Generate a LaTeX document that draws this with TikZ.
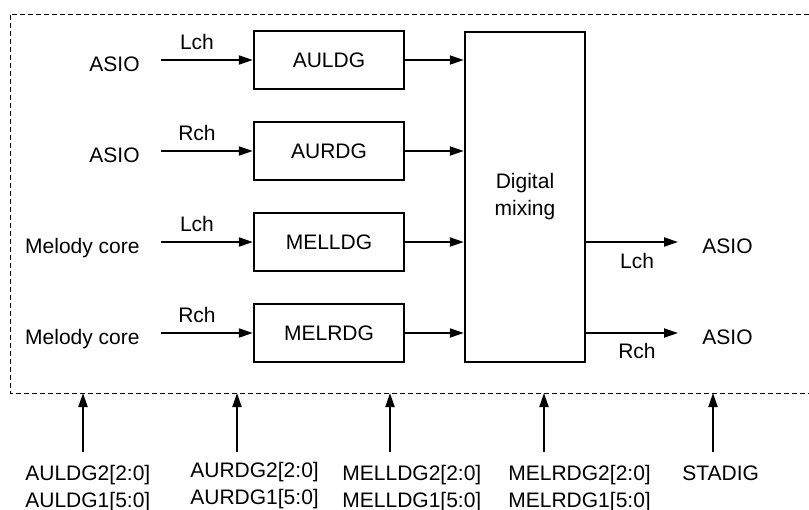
\documentclass[tikz,border=0pt]{standalone}
\usepackage{fontspec}
\setmainfont{Liberation Sans}
\usetikzlibrary{arrows.meta,positioning}

\begin{document}
\begin{tikzpicture}[x=.5pt,y=-.5pt,font=\fontsize{10.5}{13.5}\selectfont,
 blk/.style={draw,line width=1.2pt,minimum width=75pt,minimum height=29pt,inner sep=0pt},
 txt/.style={inner sep=0pt},
 sig/.style={line width=1pt,-{Triangle[length=7pt,width=4.5pt]}}]
 \useasboundingbox(0,0)rectangle(809,509);
 \draw[dash pattern=on 2.5pt off 1.5pt,line width=.5pt](809,14)--(10,14)--(10,393)--(809,393);
 \coordinate(fb)at(10,393);
 % gain blocks and mixer
 \node[blk](auldg)at(329,60){AULDG};
 \node[blk](aurdg)at(329,151){AURDG};
 \node[blk](melldg)at(329,242){MELLDG};
 \node[blk](melrdg)at(329,333){MELRDG};
 \node[blk,minimum width=60pt,minimum height=165pt,align=center](mix)at(525,197){Digital\\mixing};
 % inputs
 \node[txt,anchor=base east](in1)at(140,71){ASIO};
 \node[txt,anchor=base east](in2)at(140,162){ASIO};
 \node[txt,anchor=base east](in3)at(140,253){Melody core};
 \node[txt,anchor=base east](in4)at(140,344){Melody core};
 \node[txt,anchor=base](lch1)at(197,49){Lch};
 \node[txt,anchor=base](rch1)at(197,140){Rch};
 \node[txt,anchor=base](lch2)at(197,231){Lch};
 \node[txt,anchor=base](rch2)at(197,322){Rch};
 \draw[sig]([xshift=10.5pt]in1.east|-auldg.west)--(auldg.west);
 \draw[sig]([xshift=10.5pt]in2.east|-aurdg.west)--(aurdg.west);
 \draw[sig]([xshift=10.5pt]in3.east|-melldg.west)--(melldg.west);
 \draw[sig]([xshift=10.5pt]in4.east|-melrdg.west)--(melrdg.west);
 \draw[sig](auldg)--(auldg-|mix.west);
 \draw[sig](aurdg)--(aurdg-|mix.west);
 \draw[sig](melldg)--(melldg-|mix.west);
 \draw[sig](melrdg)--(melrdg-|mix.west);
 % outputs
 \node[txt,anchor=base west](outl)at(702,253){ASIO};
 \node[txt,anchor=base west](outr)at(702,344){ASIO};
 \node[txt,anchor=base](lch3)at(637,268){Lch};
 \node[txt,anchor=base](rch3)at(637,358){Rch};
 \draw[sig](mix.east|-melldg)--([xshift=-12pt]outl.west|-melldg);
 \draw[sig](mix.east|-melrdg)--([xshift=-12pt]outr.west|-melrdg);
 % register inputs
 \node[txt,anchor=north west,align=left](reg1)at(25,465){AULDG2[2:0]\\AULDG1[5:0]};
 \node[txt,anchor=north west,align=left](reg2)at(190,462){AURDG2[2:0]\\AURDG1[5:0]};
 \node[txt,anchor=north west,align=left](reg3)at(342,465){MELLDG2[2:0]\\MELLDG1[5:0]};
 \node[txt,anchor=north west,align=left](reg4)at(508,465){MELRDG2[2:0]\\MELRDG1[5:0]};
 \node[txt,anchor=north west](reg5)at(682,465){STADIG};
 \coordinate(c1)at(83,452);
 \coordinate(c2)at(237,452);
 \coordinate(c3)at(390,452);
 \coordinate(c4)at(544,452);
 \coordinate(c5)at(713,452);
 \draw[sig](c1)--(c1|-fb);
 \draw[sig](c2)--(c2|-fb);
 \draw[sig](c3)--(c3|-fb);
 \draw[sig](c4)--(c4|-fb);
 \draw[sig](c5)--(c5|-fb);
\end{tikzpicture}
\end{document}
